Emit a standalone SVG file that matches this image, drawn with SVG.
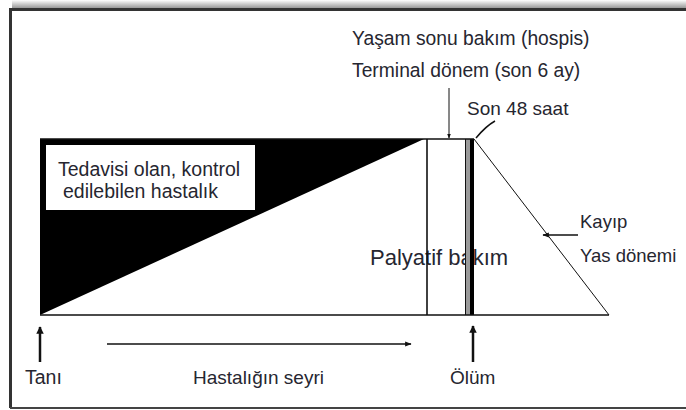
<svg xmlns="http://www.w3.org/2000/svg" width="686" height="410" viewBox="0 0 686 410">
<defs>
<linearGradient id="shadow" x1="0" y1="0" x2="0" y2="1">
<stop offset="0" stop-color="#ffffff"/>
<stop offset="1" stop-color="#8c8c8c"/>
</linearGradient>
<marker id="big" viewBox="0 0 10 10" refX="9" refY="5" markerWidth="3" markerHeight="3.4" orient="auto" markerUnits="strokeWidth">
<path d="M0,0 L10,5 L0,10 z" fill="#111"/>
</marker>
<marker id="small" viewBox="0 0 10 10" refX="9" refY="5" markerWidth="5" markerHeight="5" orient="auto" markerUnits="strokeWidth">
<path d="M0,1 L10,5 L0,9 z" fill="#111"/>
</marker>
</defs>
<style>
text{font-family:"Liberation Sans",Arial,sans-serif;fill:#262630;}
.t19{font-size:19.5px;}
.line{stroke:#111;fill:none;}
</style>
<rect width="686" height="410" fill="#fff"/>
<!-- frame -->
<g id="frame">
<rect x="12" y="0" width="674" height="9" fill="url(#shadow)"/>
<path d="M10.5,408 V9.5 H686" stroke="#333" stroke-width="3" fill="none"/>
<path d="M10,408 H686" stroke="#444" stroke-width="2" fill="none"/>
</g>
<!-- main figure -->
<g id="curable">
<polygon points="40,139 424,139 40,315" fill="#000"/>
<rect x="46" y="145" width="209" height="65" fill="#fff"/>
<text class="t19" x="58" y="176">Tedavisi olan, kontrol</text>
<text class="t19" x="63" y="198">edilebilen hastalık</text>
</g>
<g id="palliative">
<text x="370" y="265" font-size="22">Palyatif bakım</text>
<path class="line" d="M427,139 V315" stroke-width="1.6"/>
</g>
<g id="last48">
<rect x="466" y="139" width="4" height="176" fill="#9a9a9a"/>
<rect x="470" y="139" width="4" height="176" fill="#000"/>
<path class="line" d="M465.5,139 V315" stroke-width="1"/>
</g>
<g id="grief">
<path class="line" d="M474,139 L609,315" stroke-width="1"/>
<text x="580" y="228" font-size="18.5">Kayıp</text>
<text x="580" y="262" font-size="18.5">Yas dönemi</text>
</g>
<g id="outline">
<path class="line" d="M40,139 H474 M40,315 H609" stroke-width="1.5"/>
</g>
<g id="top-labels">
<text x="352" y="45" font-size="19.3">Yaşam sonu bakım (hospis)</text>
<text x="352" y="77" font-size="19.3">Terminal dönem (son 6 ay)</text>
<text x="467" y="115" font-size="19">Son 48 saat</text>
</g>
<g id="bottom-labels">
<text x="25" y="384" font-size="19.5">Tanı</text>
<text x="193" y="384" font-size="19">Hastalığın seyri</text>
<text x="450" y="384" font-size="19">Ölüm</text>
</g>
<g id="connectors">
<path class="line" d="M449,88 V138" stroke-width="1" marker-end="url(#small)"/>
<path class="line" d="M495,121 Q486,126 476,138" stroke-width="1.5"/>
<path class="line" d="M578,235 H543" stroke-width="1.3" marker-end="url(#small)"/>
<path class="line" d="M40,362 V327" stroke-width="2.5" marker-end="url(#big)"/>
<path class="line" d="M473,362 V326" stroke-width="2.5" marker-end="url(#big)"/>
<path class="line" d="M107,344 H411" stroke-width="1.3" marker-end="url(#small)"/>
</g>
</svg>
